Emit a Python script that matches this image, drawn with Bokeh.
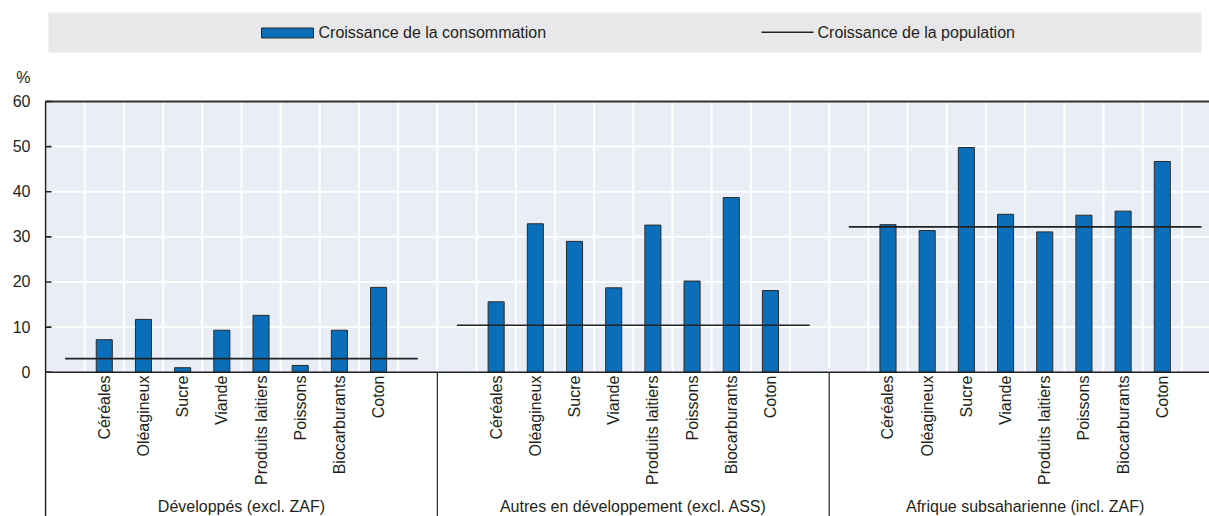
import math
from bokeh.plotting import figure
from bokeh.models import Range1d, FixedTicker, ColumnDataSource
from bokeh.core.properties import value
from bokeh.embed import file_html
from bokeh.resources import INLINE

# ---------------- data ----------------
groups = ["Développés (excl. ZAF)",
          "Autres en développement (excl. ASS)",
          "Afrique subsaharienne (incl. ZAF)"]
products = ["Céréales", "Oléagineux", "Sucre", "Viande",
            "Produits laitiers", "Poissons", "Biocarburants", "Coton"]
conso_developpes = [7.2, 11.7, 1.0, 9.3, 12.6, 1.5, 9.3, 18.8]
conso_autres = [15.6, 32.9, 29.0, 18.7, 32.6, 20.2, 38.7, 18.1]
conso_afrique = [32.7, 31.4, 49.8, 35.0, 31.1, 34.8, 35.7, 46.7]
population = [3.0, 10.4, 32.2]
y_ticks = [0, 10, 20, 30, 40, 50, 60]
unit_label = "%"
legend_labels = ["Croissance de la consommation", "Croissance de la population"]

# ---------------- layout ----------------
W, H = 1209, 516
AX_PX = 45                # canvas x of the y axis line
SLOT_PX = 39.186          # px per category slot
SLOTS = 10                # slots per group: empty + 8 products + empty
PX_Y = 270.7 / 60.0       # px per % unit
TOP_PX = 101              # canvas px from top down to the 60 line
FRAME_LEFT = AX_PX - 1
X_START = -1 / SLOT_PX
X_END = (W - AX_PX) / SLOT_PX
Y_END = 60 + TOP_PX / PX_Y
Y_START = Y_END - H / PX_Y

def dx(px):   # canvas px -> data x
    return (px - AX_PX) / SLOT_PX

def dy(px):   # canvas px (from top) -> data y
    return Y_END - px / PX_Y

FONT = value("Liberation Sans")
TXT = "#231f20"
DARK = "#222222"
BLUE = "#0a6fb8"
PLOT_BG = "#e9edf6"
LEG_BG = "#e8e8ea"

p = figure(width=W, height=H, x_range=Range1d(X_START, X_END), y_range=Range1d(Y_START, Y_END),
           output_backend="svg", toolbar_location=None, x_axis_location=None,
           min_border_left=FRAME_LEFT, min_border_right=0, min_border_top=0, min_border_bottom=0)
p.outline_line_color = None
p.grid.visible = False
p.background_fill_color = "white"
p.border_fill_color = "white"

# plot area background
p.quad(left=[0], right=[X_END], bottom=[0], top=[60], fill_color=PLOT_BG, line_color=None)

# grid lines (drawn manually so that they stay inside the data area)
n_v = int(X_END)
p.segment(x0=list(range(1, n_v + 1)), x1=list(range(1, n_v + 1)),
          y0=[0] * n_v, y1=[60] * n_v, line_color="white", line_width=2)
hg = y_ticks[1:-1]
p.segment(x0=[0] * len(hg), x1=[X_END] * len(hg), y0=hg, y1=hg, line_color="white", line_width=2)

# bars
all_vals = [conso_developpes, conso_autres, conso_afrique]
xs, tops = [], []
for g, vals in enumerate(all_vals):
    for i, v in enumerate(vals):
        xs.append(g * SLOTS + 1.5 + i)
        tops.append(v)
bar_src = ColumnDataSource(dict(x=xs, top=tops))
p.vbar(x="x", top="top", bottom=0, width=0.41, source=bar_src,
       fill_color=BLUE, line_color="#2a2a2a", line_width=1)

# population lines
pop_src = ColumnDataSource(dict(x0=[g * SLOTS + 0.5 for g in range(3)],
                                x1=[g * SLOTS + 9.5 for g in range(3)],
                                y=population))
p.segment(x0="x0", x1="x1", y0="y", y1="y", source=pop_src, line_color=DARK, line_width=1.6)

# frame lines: top, zero line, y-axis line, inward ticks, group separators
p.segment(x0=[0], x1=[X_END], y0=[60], y1=[60], line_color="#333333", line_width=2)
p.segment(x0=[0], x1=[X_END], y0=[0], y1=[0], line_color=DARK, line_width=1.6)
p.segment(x0=[0], x1=[0], y0=[Y_START], y1=[60], line_color=DARK, line_width=1.6)
p.segment(x0=[0] * len(y_ticks), x1=[dx(AX_PX + 6)] * len(y_ticks), y0=y_ticks, y1=y_ticks,
          line_color=DARK, line_width=1.6)
sep = [g * SLOTS for g in range(1, 3)]
p.segment(x0=sep, x1=sep, y0=[Y_START] * 2, y1=[0] * 2, line_color=DARK, line_width=1.2)

# category labels (rotated)
lab_x, lab_t = [], []
for g in range(3):
    for i, name in enumerate(products):
        lab_x.append(g * SLOTS + 1.5 + i)
        lab_t.append(name)
p.text(x=lab_x, y=[-0.75] * len(lab_x), text=lab_t, angle=math.pi / 2,
       text_align="right", text_baseline="middle", text_font=FONT,
       text_font_size=value("16px"), text_color=TXT)

# group labels
p.text(x=[g * SLOTS + SLOTS / 2 for g in range(3)], y=[dy(506)] * 3, text=groups,
       text_align="center", text_baseline="middle", text_font=FONT,
       text_font_size=value("16px"), text_color=TXT)

# legend (manual, in the band above the plot)
p.quad(left=[dx(48)], right=[dx(1201)], top=[dy(12)], bottom=[dy(52)],
       fill_color=LEG_BG, line_color=None)
p.quad(left=[dx(261)], right=[dx(313)], top=[dy(27.5)], bottom=[dy(37.5)],
       fill_color=BLUE, line_color="#2a2a2a", line_width=1)
p.segment(x0=[dx(761)], x1=[dx(813)], y0=[dy(31.7)], y1=[dy(31.7)], line_color=DARK, line_width=1.6)
p.text(x=[dx(318), dx(817)], y=[dy(32)] * 2, text=legend_labels,
       text_align="left", text_baseline="middle", text_font=FONT,
       text_font_size=value("16px"), text_color=TXT)

# y axis (tick labels + unit label as an extra labelled tick)
pct_pos = (371.7 - 77) / PX_Y
ax = p.yaxis[0]
ax.ticker = FixedTicker(ticks=y_ticks + [pct_pos])
ax.major_label_overrides = {pct_pos: unit_label}
ax.axis_line_color = None
ax.major_tick_in = 0
ax.major_tick_out = 0
ax.major_tick_line_color = None
ax.minor_tick_line_color = None
ax.major_label_standoff = FRAME_LEFT - 30
ax.major_label_text_font = "Liberation Sans"
ax.major_label_text_font_size = "16px"
ax.major_label_text_color = TXT

open("out.html", "w").write(file_html(p, INLINE))
